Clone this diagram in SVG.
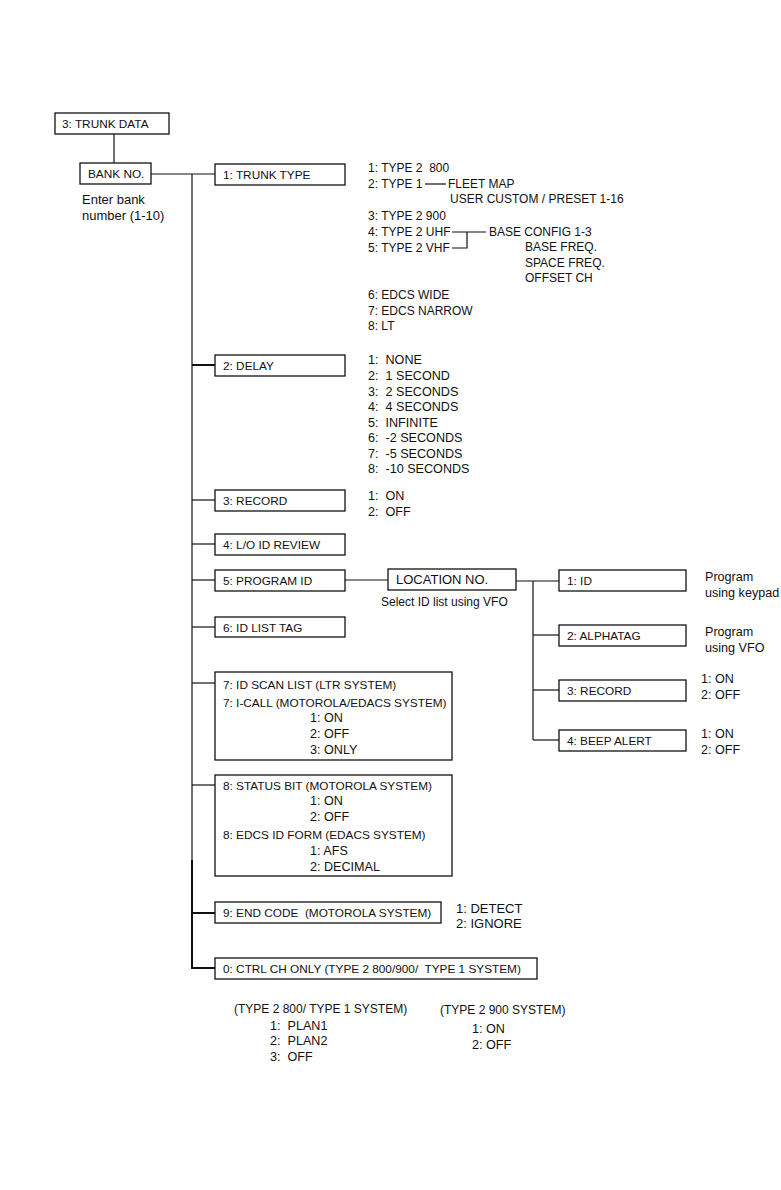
<svg xmlns="http://www.w3.org/2000/svg" width="781" height="1190" viewBox="0 0 781 1190" xml:space="preserve">
<style>
text { font-family: "Liberation Sans", Arial, sans-serif; fill: #111; white-space: pre; }
.b { font-size: 11.8px; }
.l { font-size: 12px; }
.m { font-size: 12.6px; }
.g { font-size: 13px; }
.box { fill: #fff; stroke: #111; stroke-width: 1.3; }
.ln { fill: none; stroke: #111; stroke-width: 1.2; }
.thk { fill: none; stroke: #111; stroke-width: 2; }
</style>
<rect width="781" height="1190" fill="#fff"/>

<g id="connectors">
  <line class="ln" x1="114" y1="134" x2="114" y2="163"/>
  <line class="ln" x1="151" y1="174" x2="215" y2="174"/>
  <line class="ln" x1="192" y1="174" x2="192" y2="860"/>
  <path class="thk" d="M192 860 V968 H215"/>
  <line class="thk" x1="192" y1="365" x2="215" y2="365"/>
  <line class="ln" x1="192" y1="500" x2="215" y2="500"/>
  <line class="ln" x1="192" y1="544" x2="215" y2="544"/>
  <line class="ln" x1="192" y1="580" x2="215" y2="580"/>
  <line class="ln" x1="192" y1="627" x2="215" y2="627"/>
  <line class="ln" x1="192" y1="683" x2="215" y2="683"/>
  <line class="ln" x1="192" y1="785" x2="215" y2="785"/>
  <line class="thk" x1="192" y1="913" x2="215" y2="913"/>
  <line class="ln" x1="345" y1="580" x2="388" y2="580"/>
  <line class="ln" x1="516" y1="581" x2="559" y2="581"/>
  <line class="ln" x1="533" y1="581" x2="533" y2="740"/>
  <line class="ln" x1="533" y1="635" x2="559" y2="635"/>
  <line class="ln" x1="533" y1="690" x2="559" y2="690"/>
  <line class="ln" x1="533" y1="740" x2="559" y2="740"/>
  <line class="ln" x1="425" y1="184" x2="446" y2="184"/>
  <path class="ln" d="M452 232 H486 M452 248 H467 V232"/>
</g>

<g id="trunk-data"><rect class="box" x="55" y="113" width="114" height="21"/><text class="b" x="62" y="128">3: TRUNK DATA</text></g>
<g id="bank-no"><rect class="box" x="80" y="163" width="71" height="21"/><text class="b" x="88" y="178">BANK NO.</text>
  <text class="g" x="82" y="204">Enter bank</text><text class="g" x="82" y="220">number (1-10)</text></g>

<g id="trunk-type"><rect class="box" x="215" y="164" width="130" height="21"/><text class="b" x="223" y="179">1: TRUNK TYPE</text></g>
<g id="trunk-type-options">
  <text class="l" x="368" y="172">1: TYPE 2  800</text>
  <text class="l" x="368" y="188">2: TYPE 1</text>
  <text class="l" x="448" y="188">FLEET MAP</text>
  <text class="l" x="450" y="203">USER CUSTOM / PRESET 1-16</text>
  <text class="l" x="368" y="220">3: TYPE 2 900</text>
  <text class="l" x="368" y="236">4: TYPE 2 UHF</text>
  <text class="l" x="368" y="252">5: TYPE 2 VHF</text>
  <text class="l" x="489" y="236">BASE CONFIG 1-3</text>
  <text class="l" x="525" y="251">BASE FREQ.</text>
  <text class="l" x="525" y="267">SPACE FREQ.</text>
  <text class="l" x="525" y="282">OFFSET CH</text>
  <text class="l" x="368" y="299">6: EDCS WIDE</text>
  <text class="l" x="368" y="315">7: EDCS NARROW</text>
  <text class="l" x="368" y="330">8: LT</text>
</g>

<g id="delay"><rect class="box" x="215" y="355" width="130" height="21"/><text class="b" x="223" y="370">2: DELAY</text></g>
<g id="delay-options">
  <text class="m" x="368" y="364">1:  NONE</text>
  <text class="m" x="368" y="380">2:  1 SECOND</text>
  <text class="m" x="368" y="396">3:  2 SECONDS</text>
  <text class="m" x="368" y="411">4:  4 SECONDS</text>
  <text class="m" x="368" y="427">5:  INFINITE</text>
  <text class="m" x="368" y="442">6:  -2 SECONDS</text>
  <text class="m" x="368" y="458">7:  -5 SECONDS</text>
  <text class="m" x="368" y="473">8:  -10 SECONDS</text>
</g>

<g id="record"><rect class="box" x="215" y="490" width="130" height="21"/><text class="b" x="223" y="505">3: RECORD</text>
  <text class="m" x="368" y="500">1:  ON</text><text class="m" x="368" y="516">2:  OFF</text></g>

<g id="lo-id-review"><rect class="box" x="215" y="534" width="130" height="21"/><text class="b" x="223" y="549">4: L/O ID REVIEW</text></g>
<g id="program-id"><rect class="box" x="215" y="570" width="130" height="21"/><text class="b" x="223" y="585">5: PROGRAM ID</text></g>
<g id="location-no"><rect class="box" x="388" y="569" width="128" height="21"/><text class="g" x="396" y="584">LOCATION NO.</text>
  <text class="l" x="381" y="606">Select ID list using VFO</text></g>
<g id="id-list-tag"><rect class="box" x="215" y="617" width="130" height="20"/><text class="b" x="223" y="632">6: ID LIST TAG</text></g>

<g id="pid-id"><rect class="box" x="559" y="570" width="127" height="21"/><text class="b" x="567" y="585">1: ID</text>
  <text class="m" x="705" y="581">Program</text><text class="m" x="705" y="597">using keypad</text></g>
<g id="pid-alphatag"><rect class="box" x="559" y="625" width="127" height="21"/><text class="b" x="567" y="640">2: ALPHATAG</text>
  <text class="m" x="705" y="636">Program</text><text class="m" x="705" y="652">using VFO</text></g>
<g id="pid-record"><rect class="box" x="559" y="680" width="127" height="21"/><text class="b" x="567" y="695">3: RECORD</text>
  <text class="m" x="701" y="683">1: ON</text><text class="m" x="701" y="699">2: OFF</text></g>
<g id="pid-beep"><rect class="box" x="559" y="730" width="127" height="21"/><text class="b" x="567" y="745">4: BEEP ALERT</text>
  <text class="m" x="701" y="738">1: ON</text><text class="m" x="701" y="754">2: OFF</text></g>

<g id="id-scan-list"><rect class="box" x="215" y="672" width="237" height="88"/>
  <text class="b" x="223" y="689">7: ID SCAN LIST (LTR SYSTEM)</text>
  <text class="b" x="223" y="707">7: I-CALL (MOTOROLA/EDACS SYSTEM)</text>
  <text class="m" x="310" y="722">1: ON</text>
  <text class="m" x="310" y="738">2: OFF</text>
  <text class="m" x="310" y="754">3: ONLY</text>
</g>

<g id="status-bit"><rect class="box" x="215" y="775" width="237" height="101"/>
  <text class="b" x="223" y="790">8: STATUS BIT (MOTOROLA SYSTEM)</text>
  <text class="m" x="310" y="805">1: ON</text>
  <text class="m" x="310" y="821">2: OFF</text>
  <text class="b" x="223" y="839">8: EDCS ID FORM (EDACS SYSTEM)</text>
  <text class="m" x="310" y="855">1: AFS</text>
  <text class="m" x="310" y="871">2: DECIMAL</text>
</g>

<g id="end-code"><rect class="box" x="215" y="902" width="226" height="21"/><text class="b" x="223" y="917">9: END CODE  (MOTOROLA SYSTEM)</text>
  <text class="g" x="456" y="913">1: DETECT</text><text class="g" x="456" y="928">2: IGNORE</text></g>

<g id="ctrl-ch-only"><rect class="box" x="215" y="958" width="322" height="21"/><text class="b" x="223" y="973">0: CTRL CH ONLY (TYPE 2 800/900/  TYPE 1 SYSTEM)</text></g>

<g id="ctrl-options">
  <text class="l" x="234" y="1013">(TYPE 2 800/ TYPE 1 SYSTEM)</text>
  <text class="m" x="270" y="1030">1:  PLAN1</text>
  <text class="m" x="270" y="1045">2:  PLAN2</text>
  <text class="m" x="270" y="1061">3:  OFF</text>
  <text class="l" x="440" y="1014">(TYPE 2 900 SYSTEM)</text>
  <text class="m" x="472" y="1033">1: ON</text>
  <text class="m" x="472" y="1049">2: OFF</text>
</g>
</svg>
